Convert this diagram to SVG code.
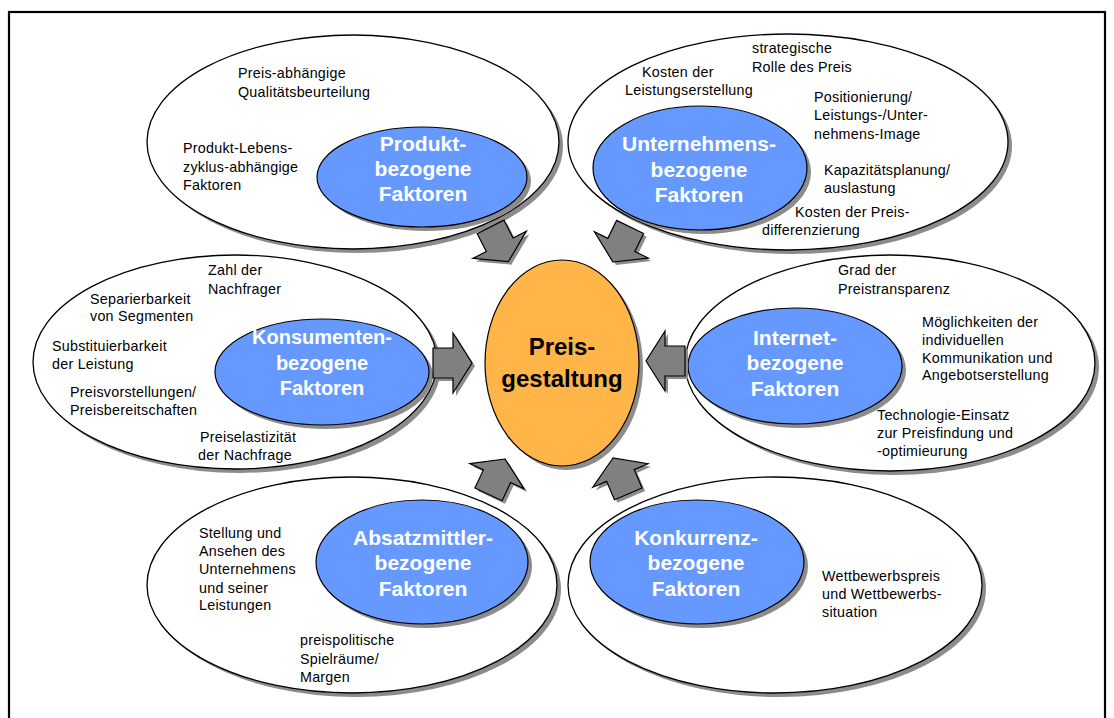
<svg xmlns="http://www.w3.org/2000/svg" xmlns:xlink="http://www.w3.org/1999/xlink" width="1114" height="718" viewBox="0 0 1114 718">
<style>
.outer{fill:#ffffff;stroke:#000;stroke-width:1.3}
.inner{fill:#6699FF;stroke:#000;stroke-width:1.2}
.center{fill:#FFB547;stroke:#000;stroke-width:1.2}
.sh{fill:#8c8c8c;stroke:none}
.arrow{fill:#808080;stroke:#000;stroke-width:1.2;stroke-linejoin:miter}
.t{font-family:"Liberation Sans",Arial,sans-serif;font-size:14.3px;letter-spacing:0.25px;fill:#000}
.h{font-family:"Liberation Sans",Arial,sans-serif;font-size:21px;font-weight:bold;fill:#fff;text-anchor:middle}
.c{font-family:"Liberation Sans",Arial,sans-serif;font-size:24px;font-weight:bold;fill:#000;text-anchor:middle}
</style>
<defs>
<polygon id="arr" points="0,0 -19,-30 -19,-15 -39,-15 -39,15 -19,15 -19,30"/>
</defs>
<rect x="0" y="0" width="1114" height="718" fill="#fff"/>
<rect x="9" y="12" width="1096" height="730" fill="none" stroke="#000" stroke-width="2.2"/>

<g id="produkt">
<ellipse class="sh" cx="357" cy="146" rx="206" ry="107"/>
<ellipse class="outer" cx="353" cy="142" rx="206" ry="107"/>
<ellipse class="sh" cx="426" cy="181" rx="105" ry="50"/>
<ellipse class="inner" cx="422" cy="177" rx="105" ry="50"/>
<text class="h"><tspan x="423" y="151">Produkt-</tspan><tspan x="423" y="176">bezogene</tspan><tspan x="423" y="201">Faktoren</tspan></text>
<text class="t"><tspan x="238" y="78">Preis-abhängige</tspan><tspan x="238" y="97">Qualitätsbeurteilung</tspan></text>
<text class="t"><tspan x="183" y="153">Produkt-Lebens-</tspan><tspan x="183" y="171.5">zyklus-abhängige</tspan><tspan x="183" y="190">Faktoren</tspan></text>
</g>

<g id="unternehmen">
<ellipse class="sh" cx="792" cy="146" rx="220" ry="108"/>
<ellipse class="outer" cx="788" cy="142" rx="220" ry="108"/>
<ellipse class="sh" cx="704" cy="172" rx="107" ry="62"/>
<ellipse class="inner" cx="700" cy="168" rx="107" ry="62"/>
<text class="h"><tspan x="699" y="151">Unternehmens-</tspan><tspan x="699" y="177">bezogene</tspan><tspan x="699" y="202">Faktoren</tspan></text>
<text class="t"><tspan x="752" y="53">strategische</tspan><tspan x="752" y="72">Rolle des Preis</tspan></text>
<text class="t"><tspan x="642" y="77">Kosten der</tspan><tspan x="625" y="95">Leistungserstellung</tspan></text>
<text class="t"><tspan x="814" y="102">Positionierung/</tspan><tspan x="814" y="120">Leistungs-/Unter-</tspan><tspan x="814" y="138.5">nehmens-Image</tspan></text>
<text class="t"><tspan x="824" y="175">Kapazitätsplanung/</tspan><tspan x="824" y="193">auslastung</tspan></text>
<text class="t"><tspan x="795" y="217">Kosten der Preis-</tspan><tspan x="762" y="235">differenzierung</tspan></text>
</g>

<g id="konsumenten">
<ellipse class="sh" cx="239" cy="366" rx="202" ry="107"/>
<ellipse class="outer" cx="235" cy="362" rx="202" ry="107"/>
<ellipse class="sh" cx="326" cy="376" rx="107" ry="53"/>
<ellipse class="inner" cx="322" cy="372" rx="107" ry="53"/>
<text class="h" style="font-size:20px"><tspan x="322" y="344">Konsumenten-</tspan><tspan x="322" y="369.5">bezogene</tspan><tspan x="322" y="395">Faktoren</tspan></text>
<text class="t"><tspan x="208" y="275">Zahl der</tspan><tspan x="208" y="293.5">Nachfrager</tspan></text>
<text class="t"><tspan x="90" y="303.5">Separierbarkeit</tspan><tspan x="90" y="321">von Segmenten</tspan></text>
<text class="t"><tspan x="52" y="351">Substituierbarkeit</tspan><tspan x="52" y="369">der Leistung</tspan></text>
<text class="t"><tspan x="70" y="397">Preisvorstellungen/</tspan><tspan x="70" y="414.5">Preisbereitschaften</tspan></text>
<text class="t"><tspan x="200" y="442">Preiselastizität</tspan><tspan x="198" y="459.5">der Nachfrage</tspan></text>
</g>

<g id="internet">
<ellipse class="sh" cx="894" cy="367" rx="205" ry="108"/>
<ellipse class="outer" cx="890" cy="363" rx="205" ry="108"/>
<ellipse class="sh" cx="799" cy="370" rx="107" ry="58"/>
<ellipse class="inner" cx="795" cy="366" rx="107" ry="58"/>
<text class="h"><tspan x="795" y="345">Internet-</tspan><tspan x="795" y="370">bezogene</tspan><tspan x="795" y="395.5">Faktoren</tspan></text>
<text class="t"><tspan x="838" y="275">Grad der</tspan><tspan x="838" y="293.5">Preistransparenz</tspan></text>
<text class="t"><tspan x="922" y="327">Möglichkeiten der</tspan><tspan x="922" y="344.5">individuellen</tspan><tspan x="922" y="362.5">Kommunikation und</tspan><tspan x="922" y="380">Angebotserstellung</tspan></text>
<text class="t"><tspan x="877" y="420">Technologie-Einsatz</tspan><tspan x="877" y="438">zur Preisfindung und</tspan><tspan x="877" y="456">-optimieurung</tspan></text>
</g>

<g id="absatzmittler">
<ellipse class="sh" cx="356" cy="589" rx="205" ry="108"/>
<ellipse class="outer" cx="352" cy="585" rx="205" ry="108"/>
<ellipse class="sh" cx="426" cy="566" rx="106" ry="62"/>
<ellipse class="inner" cx="422" cy="562" rx="106" ry="62"/>
<text class="h"><tspan x="423" y="545">Absatzmittler-</tspan><tspan x="423" y="570">bezogene</tspan><tspan x="423" y="595.5">Faktoren</tspan></text>
<text class="t"><tspan x="199" y="537.5">Stellung und</tspan><tspan x="199" y="556">Ansehen des</tspan><tspan x="199" y="574">Unternehmens</tspan><tspan x="199" y="592.5">und seiner</tspan><tspan x="199" y="610">Leistungen</tspan></text>
<text class="t"><tspan x="300" y="645">preispolitische</tspan><tspan x="300" y="663.5">Spielräume/</tspan><tspan x="300" y="682">Margen</tspan></text>
</g>

<g id="konkurrenz">
<ellipse class="sh" cx="779" cy="589" rx="207" ry="108"/>
<ellipse class="outer" cx="775" cy="585" rx="207" ry="108"/>
<ellipse class="sh" cx="701" cy="566" rx="107" ry="62"/>
<ellipse class="inner" cx="697" cy="562" rx="107" ry="62"/>
<text class="h"><tspan x="696" y="545">Konkurrenz-</tspan><tspan x="696" y="570">bezogene</tspan><tspan x="696" y="595.5">Faktoren</tspan></text>
<text class="t"><tspan x="822" y="581">Wettbewerbspreis</tspan><tspan x="822" y="599">und Wettbewerbs-</tspan><tspan x="822" y="617">situation</tspan></text>
</g>

<g id="preisgestaltung">
<ellipse class="sh" cx="566" cy="367" rx="77" ry="103"/>
<ellipse class="center" cx="562" cy="363" rx="77" ry="103"/>
<text class="c"><tspan x="562" y="355">Preis-</tspan><tspan x="562" y="387">gestaltung</tspan></text>
</g>

<g id="connectors">
<use xlink:href="#arr" class="sh" transform="translate(511.3,264.7) rotate(63)"/>
<use xlink:href="#arr" class="arrow" transform="translate(508.3,261.7) rotate(63)"/>
<use xlink:href="#arr" class="sh" transform="translate(616,265) rotate(116)"/>
<use xlink:href="#arr" class="arrow" transform="translate(613,262) rotate(116)"/>
<use xlink:href="#arr" class="sh" transform="translate(475,366)"/>
<use xlink:href="#arr" class="arrow" transform="translate(472,363)"/>
<use xlink:href="#arr" class="sh" transform="translate(649,364) rotate(180)"/>
<use xlink:href="#arr" class="arrow" transform="translate(646,361) rotate(180)"/>
<use xlink:href="#arr" class="sh" transform="translate(508,462) rotate(-65)"/>
<use xlink:href="#arr" class="arrow" transform="translate(505,459) rotate(-65)"/>
<use xlink:href="#arr" class="sh" transform="translate(616,461) rotate(-113)"/>
<use xlink:href="#arr" class="arrow" transform="translate(613,458) rotate(-113)"/>
</g>
</svg>
